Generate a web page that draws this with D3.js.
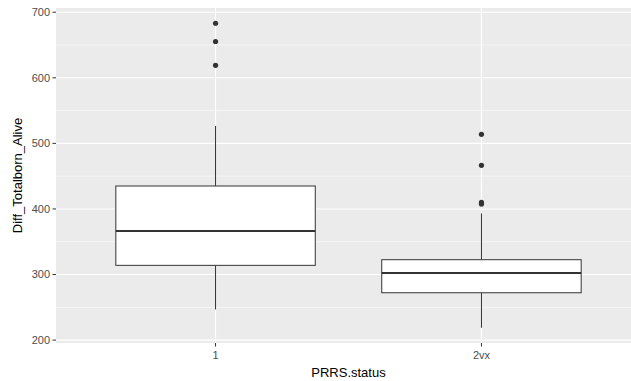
<!DOCTYPE html>
<html>
<head>
<meta charset="utf-8">
<script src="https://cdn.jsdelivr.net/npm/d3@7"></script>
<style>
  body { margin: 0; background: #fff; }
  svg { display: block; font-family: "Liberation Sans", Arial, sans-serif; }
</style>
</head>
<body>
<svg id="chart" width="631" height="381"></svg>
<script>
// box stats
var categories = ["1", "2vx"];
var whiskerLow = [246.8, 218.8];
var q1 = [314, 272.2];
var median = [366.3, 302.2];
var q3 = [435, 322.6];
var whiskerHigh = [526.5, 393.3];
var outliers = [
  [619, 655.3, 683.2],
  [407.5, 410, 466.5, 513.8]
];
var yTicks = [200, 300, 400, 500, 600, 700];
var yMinor = [250, 350, 450, 550, 650];

// panel edges (right side runs past the picture, like the reference crop)
var pLeft = 56, pTop = 8, pRight = 641, pBottom = 343;

var svg = d3.select("#chart");

// extent incl. outliers, ggplot style 5% expand
var allVals = whiskerLow.concat(whiskerHigh, d3.merge(outliers));
var lo = d3.min(allVals), hi = d3.max(allVals);
var pad = (hi - lo) * 0.05;

var x = d3.scalePoint().domain(categories).range([pLeft, pRight]).padding(0.6);
var y = d3.scaleLinear().domain([lo - pad, hi + pad]).range([pBottom, pTop]);
var boxW = x.step() * 0.75;

// panel
svg.append("rect")
  .attr("x", pLeft).attr("y", pTop)
  .attr("width", pRight - pLeft).attr("height", pBottom - pTop)
  .attr("fill", "#ebebeb");

var grid = svg.append("g");
grid.selectAll(".minor").data(yMinor).enter().append("line")
  .attr("x1", pLeft).attr("x2", pRight)
  .attr("y1", function (d) { return y(d); })
  .attr("y2", function (d) { return y(d); })
  .attr("stroke", "#fff").attr("stroke-width", 0.55);
grid.selectAll(".major").data(yTicks).enter().append("line")
  .attr("x1", pLeft).attr("x2", pRight)
  .attr("y1", function (d) { return y(d); })
  .attr("y2", function (d) { return y(d); })
  .attr("stroke", "#fff").attr("stroke-width", 1.1);
grid.selectAll(".vmajor").data(categories).enter().append("line")
  .attr("x1", function (d) { return x(d); })
  .attr("x2", function (d) { return x(d); })
  .attr("y1", pTop).attr("y2", pBottom)
  .attr("stroke", "#fff").attr("stroke-width", 1.1);

// boxes
var boxes = svg.selectAll(".box").data(categories).enter().append("g");

boxes.append("line")
  .attr("x1", function (d) { return x(d); })
  .attr("x2", function (d) { return x(d); })
  .attr("y1", function (d, i) { return y(whiskerHigh[i]); })
  .attr("y2", function (d, i) { return y(q3[i]); })
  .attr("stroke", "#333").attr("stroke-width", 1);
boxes.append("line")
  .attr("x1", function (d) { return x(d); })
  .attr("x2", function (d) { return x(d); })
  .attr("y1", function (d, i) { return y(q1[i]); })
  .attr("y2", function (d, i) { return y(whiskerLow[i]); })
  .attr("stroke", "#333").attr("stroke-width", 1);
boxes.append("rect")
  .attr("x", function (d) { return x(d) - boxW / 2; })
  .attr("width", boxW)
  .attr("y", function (d, i) { return y(q3[i]); })
  .attr("height", function (d, i) { return y(q1[i]) - y(q3[i]); })
  .attr("fill", "#fff").attr("stroke", "#333").attr("stroke-width", 1);
boxes.append("line")
  .attr("x1", function (d) { return x(d) - boxW / 2; })
  .attr("x2", function (d) { return x(d) + boxW / 2; })
  .attr("y1", function (d, i) { return y(median[i]); })
  .attr("y2", function (d, i) { return y(median[i]); })
  .attr("stroke", "#333").attr("stroke-width", 2);

boxes.each(function (d, i) {
  d3.select(this).selectAll("circle").data(outliers[i]).enter().append("circle")
    .attr("cx", x(d))
    .attr("cy", function (v) { return y(v); })
    .attr("r", 2.6)
    .attr("fill", "#333");
});

// y axis
var yAxis = svg.append("g");
yAxis.selectAll("line").data(yTicks).enter().append("line")
  .attr("x1", pLeft - 3.5).attr("x2", pLeft)
  .attr("y1", function (d) { return y(d); })
  .attr("y2", function (d) { return y(d); })
  .attr("stroke", "#333").attr("stroke-width", 1);
yAxis.selectAll("text").data(yTicks).enter().append("text")
  .attr("x", pLeft - 6)
  .attr("y", function (d) { return y(d); })
  .attr("dy", "0.35em")
  .attr("text-anchor", "end")
  .attr("font-size", 11)
  .attr("fill", "#4d4d4d")
  .text(function (d) { return d; });

// x axis
var xAxis = svg.append("g");
xAxis.selectAll("line").data(categories).enter().append("line")
  .attr("x1", function (d) { return x(d); })
  .attr("x2", function (d) { return x(d); })
  .attr("y1", pBottom).attr("y2", pBottom + 3.5)
  .attr("stroke", "#333").attr("stroke-width", 1);
xAxis.selectAll("text").data(categories).enter().append("text")
  .attr("x", function (d) { return x(d); })
  .attr("y", pBottom + 16)
  .attr("text-anchor", "middle")
  .attr("font-size", 11)
  .attr("fill", "#4d4d4d")
  .text(function (d) { return d; });

// titles
svg.append("text")
  .attr("x", (pLeft + pRight) / 2)
  .attr("y", 377)
  .attr("text-anchor", "middle")
  .attr("font-size", 13)
  .attr("fill", "#000")
  .text("PRRS.status");

svg.append("text")
  .attr("transform", "translate(22," + ((pTop + pBottom) / 2) + ") rotate(-90)")
  .attr("text-anchor", "middle")
  .attr("font-size", 13)
  .attr("fill", "#000")
  .text("Diff_Totalborn_Alive");
</script>
</body>
</html>
